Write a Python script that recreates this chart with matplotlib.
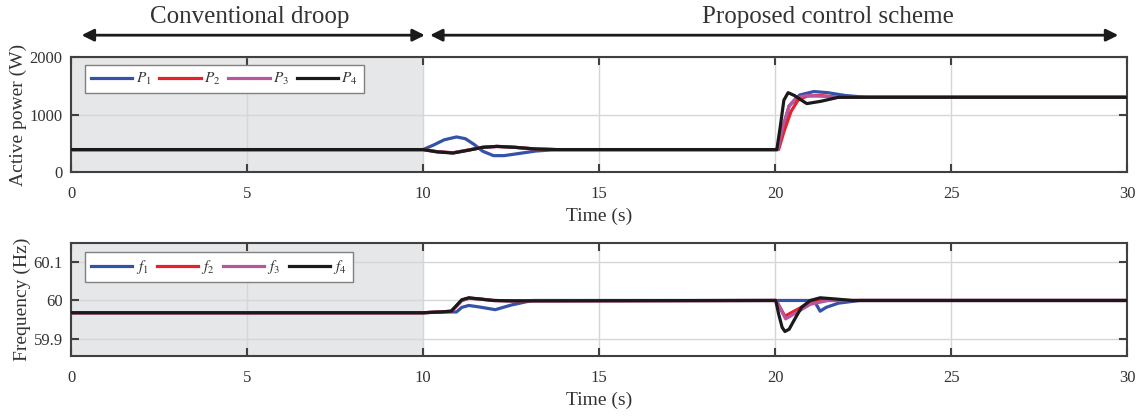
import matplotlib
matplotlib.use("Agg")
import matplotlib.pyplot as plt
import matplotlib.transforms as mtransforms

plt.rcParams['font.family'] = ['Liberation Serif', 'DejaVu Serif']
plt.rcParams['mathtext.fontset'] = 'stix'
plt.rcParams['text.color'] = '#333333'
plt.rcParams['axes.labelcolor'] = '#333333'

# active power (W)
t_p1 = [0, 10, 10.3, 10.6, 10.95, 11.2, 11.45, 11.7, 12.0, 12.3, 12.7, 13.2, 13.8,
        20.05, 20.2, 20.4, 20.7, 21.1, 21.5, 22.0, 22.6, 30]
p1 = [390, 390, 470, 560, 610, 580, 480, 360, 285, 285, 320, 365, 390,
      390, 700, 1150, 1340, 1400, 1380, 1330, 1300, 1300]
t_p2 = [0, 10, 10.4, 10.85, 11.3, 11.7, 12.1, 12.6, 13.2, 13.8,
        20.1, 20.25, 20.45, 20.65, 20.9, 21.3, 21.8, 30]
p2 = [390, 390, 355, 335, 385, 430, 445, 430, 400, 390,
      390, 700, 1050, 1250, 1320, 1330, 1300, 1300]
t_p3 = [0, 10, 10.4, 10.85, 11.3, 11.7, 12.1, 12.6, 13.2, 13.8,
        20.08, 20.22, 20.4, 20.6, 20.9, 21.3, 21.8, 30]
p3 = [390, 390, 352, 333, 383, 430, 447, 430, 400, 390,
      390, 800, 1150, 1290, 1330, 1320, 1300, 1300]
t_p4 = [0, 10, 10.4, 10.85, 11.3, 11.7, 12.1, 12.6, 13.2, 13.8,
        20.05, 20.15, 20.25, 20.37, 20.55, 20.9, 21.3, 21.8, 30]
p4 = [390, 390, 350, 330, 380, 430, 445, 430, 400, 390,
      390, 800, 1250, 1380, 1330, 1190, 1230, 1300, 1300]

# frequency (Hz)
t_f1 = [0, 10, 10.5, 10.95, 11.1, 11.3, 11.6, 12.05, 12.5, 13.1,
        21.1, 21.2, 21.28, 21.45, 21.8, 22.4, 30]
f1 = [59.968, 59.968, 59.970, 59.970, 59.982, 59.987, 59.983, 59.976, 59.988, 60.0,
      60.0, 59.985, 59.972, 59.982, 59.993, 60.0, 60.0]
t_f2 = [0, 10, 10.5, 10.8, 10.95, 11.1, 11.3, 11.6, 12.0, 12.5,
        20.03, 20.28, 20.6, 20.9, 21.2, 30]
f2 = [59.968, 59.968, 59.970, 59.972, 59.985, 60.0, 60.006, 60.004, 60.0, 59.999,
      60.0, 59.959, 59.975, 59.99, 60.0, 60.0]
t_f3 = [0, 10, 10.5, 10.8, 10.95, 11.1, 11.3, 11.6, 12.0, 12.5,
        20.03, 20.3, 20.6, 21.0, 21.5, 30]
f3 = [59.968, 59.968, 59.970, 59.972, 59.986, 60.0, 60.006, 60.004, 60.0, 59.999,
      60.0, 59.952, 59.968, 59.99, 60.0, 60.0]
t_f4 = [0, 10, 10.5, 10.8, 10.95, 11.1, 11.3, 11.6, 12.0, 12.5,
        20.02, 20.1, 20.2, 20.28, 20.4, 20.55, 20.75, 21.0, 21.28, 21.7, 22.2, 30]
f4 = [59.968, 59.968, 59.970, 59.972, 59.987, 60.002, 60.007, 60.004, 60.0, 59.999,
      60.0, 59.965, 59.930, 59.919, 59.925, 59.950, 59.982, 60.0, 60.007, 60.004, 60.0, 60.0]

colors = ['#3452a8', '#e8202a', '#b8559f', '#1a1a1a']
spine_col = '#404040'

fig = plt.figure(figsize=(11.46, 4.16), dpi=100)
ax1 = fig.add_axes([0.062, 0.5865, 0.9215, 0.2764])
ax2 = fig.add_axes([0.062, 0.1442, 0.9215, 0.2716])


def style_axes(ax):
    ax.axvspan(0, 10, color='#e6e7e8', zorder=0, lw=0)
    ax.grid(True, color='#d6d6d6', lw=1.0, zorder=1)
    ax.set_xlim(0, 30)
    ax.set_xticks([0, 5, 10, 15, 20, 25, 30])
    ax.tick_params(direction='in', top=True, right=True, length=6, width=1.5,
                   color=spine_col, labelcolor='#333333', labelsize=12)
    ax.tick_params(axis='x', pad=10)
    ax.tick_params(axis='y', pad=6)
    for s in ax.spines.values():
        s.set_color(spine_col)
        s.set_linewidth(1.5)
    ax.set_xlabel('Time (s)', fontsize=14, labelpad=4)


style_axes(ax1)
for t, v, c, lab in zip([t_p1, t_p2, t_p3, t_p4], [p1, p2, p3, p4], colors,
                        [r'$\mathit{P}_{\mathit{1}}$', r'$\mathit{P}_{\mathit{2}}$',
                         r'$\mathit{P}_{\mathit{3}}$', r'$\mathit{P}_{\mathit{4}}$']):
    ax1.plot(t, v, color=c, lw=2.3, label=lab, zorder=3)
ax1.set_ylim(0, 2000)
ax1.set_yticks([0, 1000, 2000])
ax1.set_ylabel('Active power (W)', fontsize=14, labelpad=2)

style_axes(ax2)
for t, v, c, lab in zip([t_f1, t_f2, t_f3, t_f4], [f1, f2, f3, f4], colors,
                        [r'$\mathit{f}_{\mathit{1}}$', r'$\mathit{f}_{\mathit{2}}$',
                         r'$\mathit{f}_{\mathit{3}}$', r'$\mathit{f}_{\mathit{4}}$']):
    ax2.plot(t, v, color=c, lw=2.3, label=lab, zorder=3)
ax2.set_ylim(59.855, 60.15)
ax2.set_yticks([59.9, 60.0, 60.1])
ax2.set_yticklabels(['59.9', '60', '60.1'])
ax2.set_ylabel('Frequency (Hz)', fontsize=14, labelpad=2)

for ax, anchor in [(ax1, (0.0133, 0.93)), (ax2, (0.0133, 0.92))]:
    leg = ax.legend(loc='upper left', bbox_to_anchor=anchor, ncol=4, fontsize=11,
                    frameon=True, fancybox=False, edgecolor='#808080',
                    framealpha=1, handlelength=2.7, columnspacing=0.55,
                    handletextpad=0.2, borderpad=0.4, borderaxespad=0)
    leg.get_frame().set_linewidth(1.0)
    leg.set_zorder(5)

# regime arrows and titles above the top panel
trans = mtransforms.blended_transform_factory(ax1.transData, ax1.transAxes)
ax1.annotate('', xy=(0.3, 1.19), xytext=(10.05, 1.19), xycoords=trans, textcoords=trans,
             arrowprops=dict(arrowstyle='<|-|>', color='#1a1a1a', lw=2,
                             mutation_scale=18, shrinkA=0, shrinkB=0),
             annotation_clip=False)
ax1.annotate('', xy=(10.2, 1.19), xytext=(29.75, 1.19), xycoords=trans, textcoords=trans,
             arrowprops=dict(arrowstyle='<|-|>', color='#1a1a1a', lw=2,
                             mutation_scale=18, shrinkA=0, shrinkB=0),
             annotation_clip=False)
ax1.text(5.08, 1.35, 'Conventional droop', transform=trans, ha='center', va='center',
         fontsize=18)
ax1.text(21.5, 1.35, 'Proposed control scheme', transform=trans, ha='center', va='center',
         fontsize=18)

fig.savefig('out.png', dpi=100)
